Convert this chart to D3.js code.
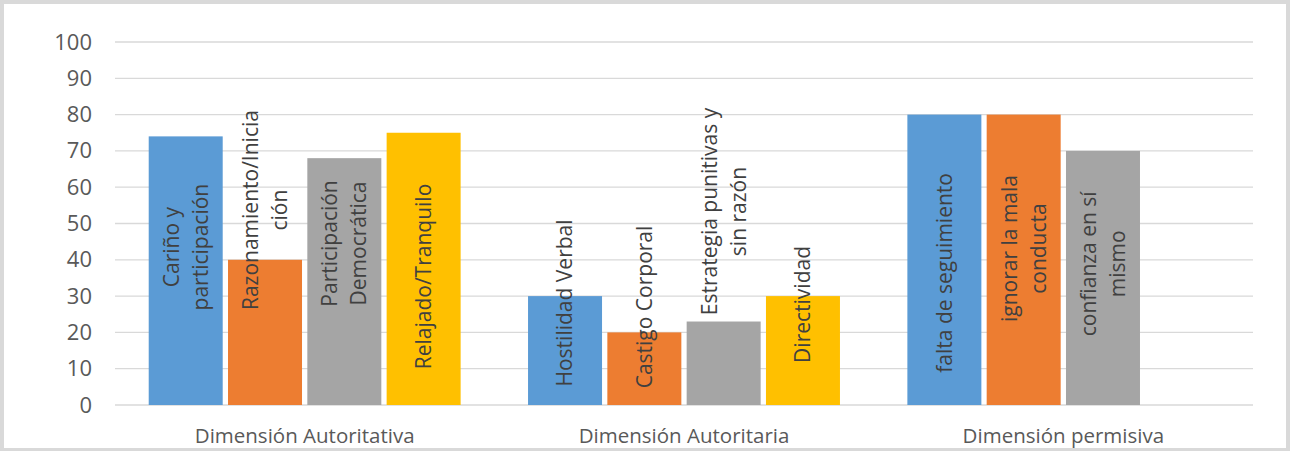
<!DOCTYPE html>
<html>
<head>
<meta charset="utf-8">
<script src="https://cdn.jsdelivr.net/npm/d3@7/dist/d3.min.js"></script>
<style>
  html, body { margin: 0; padding: 0; background: #fff; }
  svg { display: block; }
  text { font-family: "Open Sans", "DejaVu Sans", sans-serif; }
</style>
</head>
<body>
<svg id="chart" width="1290" height="451"></svg>
<script>
// ---- data ----
const categories = ["Dimensión Autoritativa", "Dimensión Autoritaria", "Dimensión permisiva"];
const seriesNames = ["s1", "s2", "s3", "s4"];
const series1 = [74, 30, 80];
const series2 = [40, 20, 80];
const series3 = [68, 23, 70];
const series4 = [75, 30, null];
const labels1 = ["Cariño y\nparticipación", "Hostilidad Verbal", "falta de seguimiento"];
const labels2 = ["Razonamiento/Inicia\nción", "Castigo Corporal", "ignorar la mala\nconducta"];
const labels3 = ["Participación\nDemocrática", "Estrategia punitivas y\nsin razón", "confianza en sí\nmismo"];
const labels4 = ["Relajado/Tranquilo", "Directividad", null];
const yTicks = [0, 10, 20, 30, 40, 50, 60, 70, 80, 90, 100];

// ---- layout / style ----
const colors = ["#5B9BD5", "#ED7D31", "#A5A5A5", "#FFC000"];
// label centre positions (in value units) as placed in the original
const labelAt1 = [43.5, 28.1, 36.4];
const labelAt2 = [53.7, 27.0, 43.1];
const labelAt3 = [44.5, 53.3, 38.9];
const labelAt4 = [35.4, 27.7, null];

const W = 1290, H = 451;
const plot = { left: 115, right: 1253, top: 42, bottom: 405 };

const allValues = [series1, series2, series3, series4];
const allLabels = [labels1, labels2, labels3, labels4];
const allLabelAt = [labelAt1, labelAt2, labelAt3, labelAt4];

const svg = d3.select("#chart");

// outer border
svg.append("rect")
  .attr("x", 2).attr("y", 2).attr("width", W - 4).attr("height", H - 3)
  .attr("fill", "#fff").attr("stroke", "#d9d9d9").attr("stroke-width", 4);

const y = d3.scaleLinear().domain([0, 100]).range([plot.bottom, plot.top]);
const x0 = d3.scaleBand().domain(categories).range([plot.left, plot.right]).padding(0);
const x1 = d3.scaleBand().domain(seriesNames).range([0, x0.bandwidth()])
  .paddingInner(0.067).paddingOuter(0.425);

// gridlines
svg.append("g").selectAll("line").data(yTicks).join("line")
  .attr("x1", plot.left).attr("x2", plot.right)
  .attr("y1", d => y(d)).attr("y2", d => y(d))
  .attr("stroke", "#d9d9d9").attr("stroke-width", 1.3);

// y axis labels
const yAxis = d3.axisLeft(y).tickValues(yTicks).tickSize(0).tickPadding(0);
const gy = svg.append("g").attr("transform", `translate(92,0)`).call(yAxis);
gy.select(".domain").remove();
gy.selectAll("text")
  .attr("fill", "#595959")
  .style("font-size", "22px")
  .style("font-family", '"Open Sans", sans-serif');

// x axis labels
const xAxis = d3.axisBottom(x0).tickSize(0).tickPadding(0);
const gx = svg.append("g").attr("transform", `translate(0,${plot.bottom})`).call(xAxis);
gx.select(".domain").remove();
gx.selectAll("text")
  .attr("fill", "#595959")
  .attr("y", 38).attr("dy", 0)
  .style("font-size", "20.5px")
  .style("font-family", '"Open Sans", sans-serif');

// bars + labels
const items = [];
categories.forEach((c, ci) => {
  seriesNames.forEach((s, si) => {
    const v = allValues[si][ci];
    if (v == null) return;
    items.push({ cat: c, ser: s, si, value: v, label: allLabels[si][ci], at: allLabelAt[si][ci] });
  });
});

svg.append("g").selectAll("rect").data(items).join("rect")
  .attr("x", d => x0(d.cat) + x1(d.ser))
  .attr("width", x1.bandwidth())
  .attr("y", d => y(d.value))
  .attr("height", d => y(0) - y(d.value))
  .attr("fill", d => colors[d.si]);

const lineH = 29;
const lg = svg.append("g").selectAll("g").data(items.filter(d => d.label)).join("g")
  .attr("transform", d => `translate(${x0(d.cat) + x1(d.ser) + x1.bandwidth() / 2},${y(d.at)}) rotate(-90)`);
lg.each(function(d) {
  const lines = d.label.split("\n");
  const t = d3.select(this).append("text")
    .attr("text-anchor", "middle")
    .attr("fill", "#404040")
    .style("font-size", "21px");
  lines.forEach((ln, i) => {
    t.append("tspan")
      .attr("x", 0)
      .attr("y", (i - (lines.length - 1) / 2) * lineH)
      .attr("dy", "0.35em")
      .text(ln);
  });
});
</script>
</body>
</html>
